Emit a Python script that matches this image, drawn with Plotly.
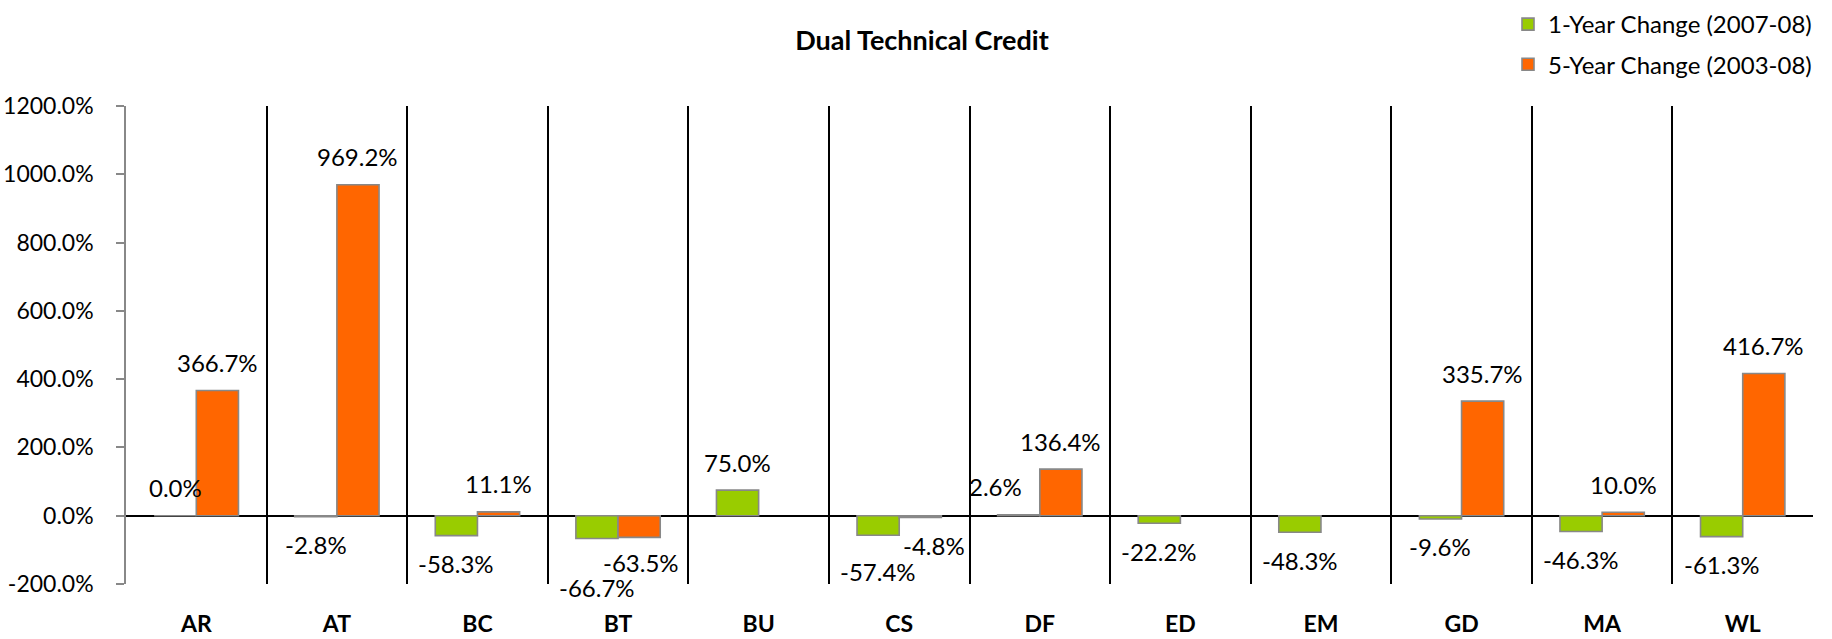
import plotly.graph_objects as go

# Campus codes and percentage changes in dual technical credit
campuses = ["AR", "AT", "BC", "BT", "BU", "CS", "DF", "ED", "EM", "GD", "MA", "WL"]
one_year = [0.0, -2.8, -58.3, -66.7, 75.0, -57.4, 2.6, -22.2, -48.3, -9.6, -46.3, -61.3]
five_year = [366.7, 969.2, 11.1, -63.5, None, -4.8, 136.4, None, None, 335.7, 10.0, 416.7]

series_names = ["1-Year Change (2007-08)", "5-Year Change (2003-08)"]
series_colors = ["#99CC00", "#FF6600"]

y_ticks = [-200, 0, 200, 400, 600, 800, 1000, 1200]

FONT = "Lato, Calibri, sans-serif"
W, H = 1832, 639
BARGAP = 0.4
BAR_W = (1 - BARGAP) / 2

# Small hand adjustments (pixels) for labels that would otherwise collide
label_nudge = {
    (0, "BT"): (0, -21),
    (1, "BT"): (2, 3),
    (0, "CS"): (0, -8),
    (1, "CS"): (14, 0),
    (0, "DF"): (-23, 0),
}

fig = go.Figure()
for k, (name, vals, col) in enumerate(zip(series_names, [one_year, five_year], series_colors)):
    fig.add_trace(go.Bar(
        x=campuses, y=vals, name=name, legendgroup=name,
        marker=dict(color=col, line=dict(color="#888888", width=1.6)),
        hoverinfo="skip",
    ))

annotations = []
for k, vals in enumerate([one_year, five_year]):
    for i, (c, v) in enumerate(zip(campuses, vals)):
        if v is None:
            continue
        dx, dy = label_nudge.get((k, c), (0, 0))
        shift = 28 if v >= 0 else -28
        annotations.append(dict(
            x=i + (k - 0.5) * BAR_W, y=v, xref="x", yref="y",
            text=f"{v:.1f}%", showarrow=False,
            xanchor="center", yanchor="middle",
            xshift=dx, yshift=shift + dy,
            font=dict(family=FONT, size=24, color="#000000"),
        ))

fig.update_layout(
    width=W, height=H,
    margin=dict(l=126, r=19, t=106, b=55, autoexpand=False),
    paper_bgcolor="white", plot_bgcolor="white",
    barmode="group", bargap=BARGAP, bargroupgap=0,
    font=dict(family=FONT, size=24, color="#000000"),
    title=dict(
        text="<b>Dual Technical Credit</b>",
        x=922 / W, xref="container", xanchor="center",
        y=1 - 41 / H, yref="container", yanchor="middle",
        font=dict(family=FONT, size=27, color="#000000"),
    ),
    legend=dict(
        x=1508 / W, xref="container", xanchor="left",
        y=1 - 2 / H, yref="container", yanchor="top",
        traceorder="grouped", tracegroupgap=6,
        font=dict(family=FONT, size=24, color="#000000"),
        bgcolor="rgba(0,0,0,0)",
    ),
    annotations=annotations,
    xaxis=dict(
        type="category",
        tickson="boundaries",
        showgrid=True, gridcolor="#000000", gridwidth=1.5,
        ticks="", showline=False, zeroline=False,
        tickfont=dict(family=FONT, size=23, color="#000000", weight="bold"),
        ticklabelstandoff=24,
    ),
    yaxis=dict(
        range=[-200, 1200],
        tickvals=y_ticks,
        ticktext=[f"{t:.1f}%" for t in y_ticks],
        showgrid=False,
        showline=True, linecolor="#888888", linewidth=1.5,
        ticks="outside", ticklen=8, tickcolor="#888888", tickwidth=1.5,
        zeroline=True, zerolinecolor="#000000", zerolinewidth=2,
        tickfont=dict(family=FONT, size=23, color="#000000"),
        ticklabelstandoff=18,
    ),
)

fig.write_html("out.html")
